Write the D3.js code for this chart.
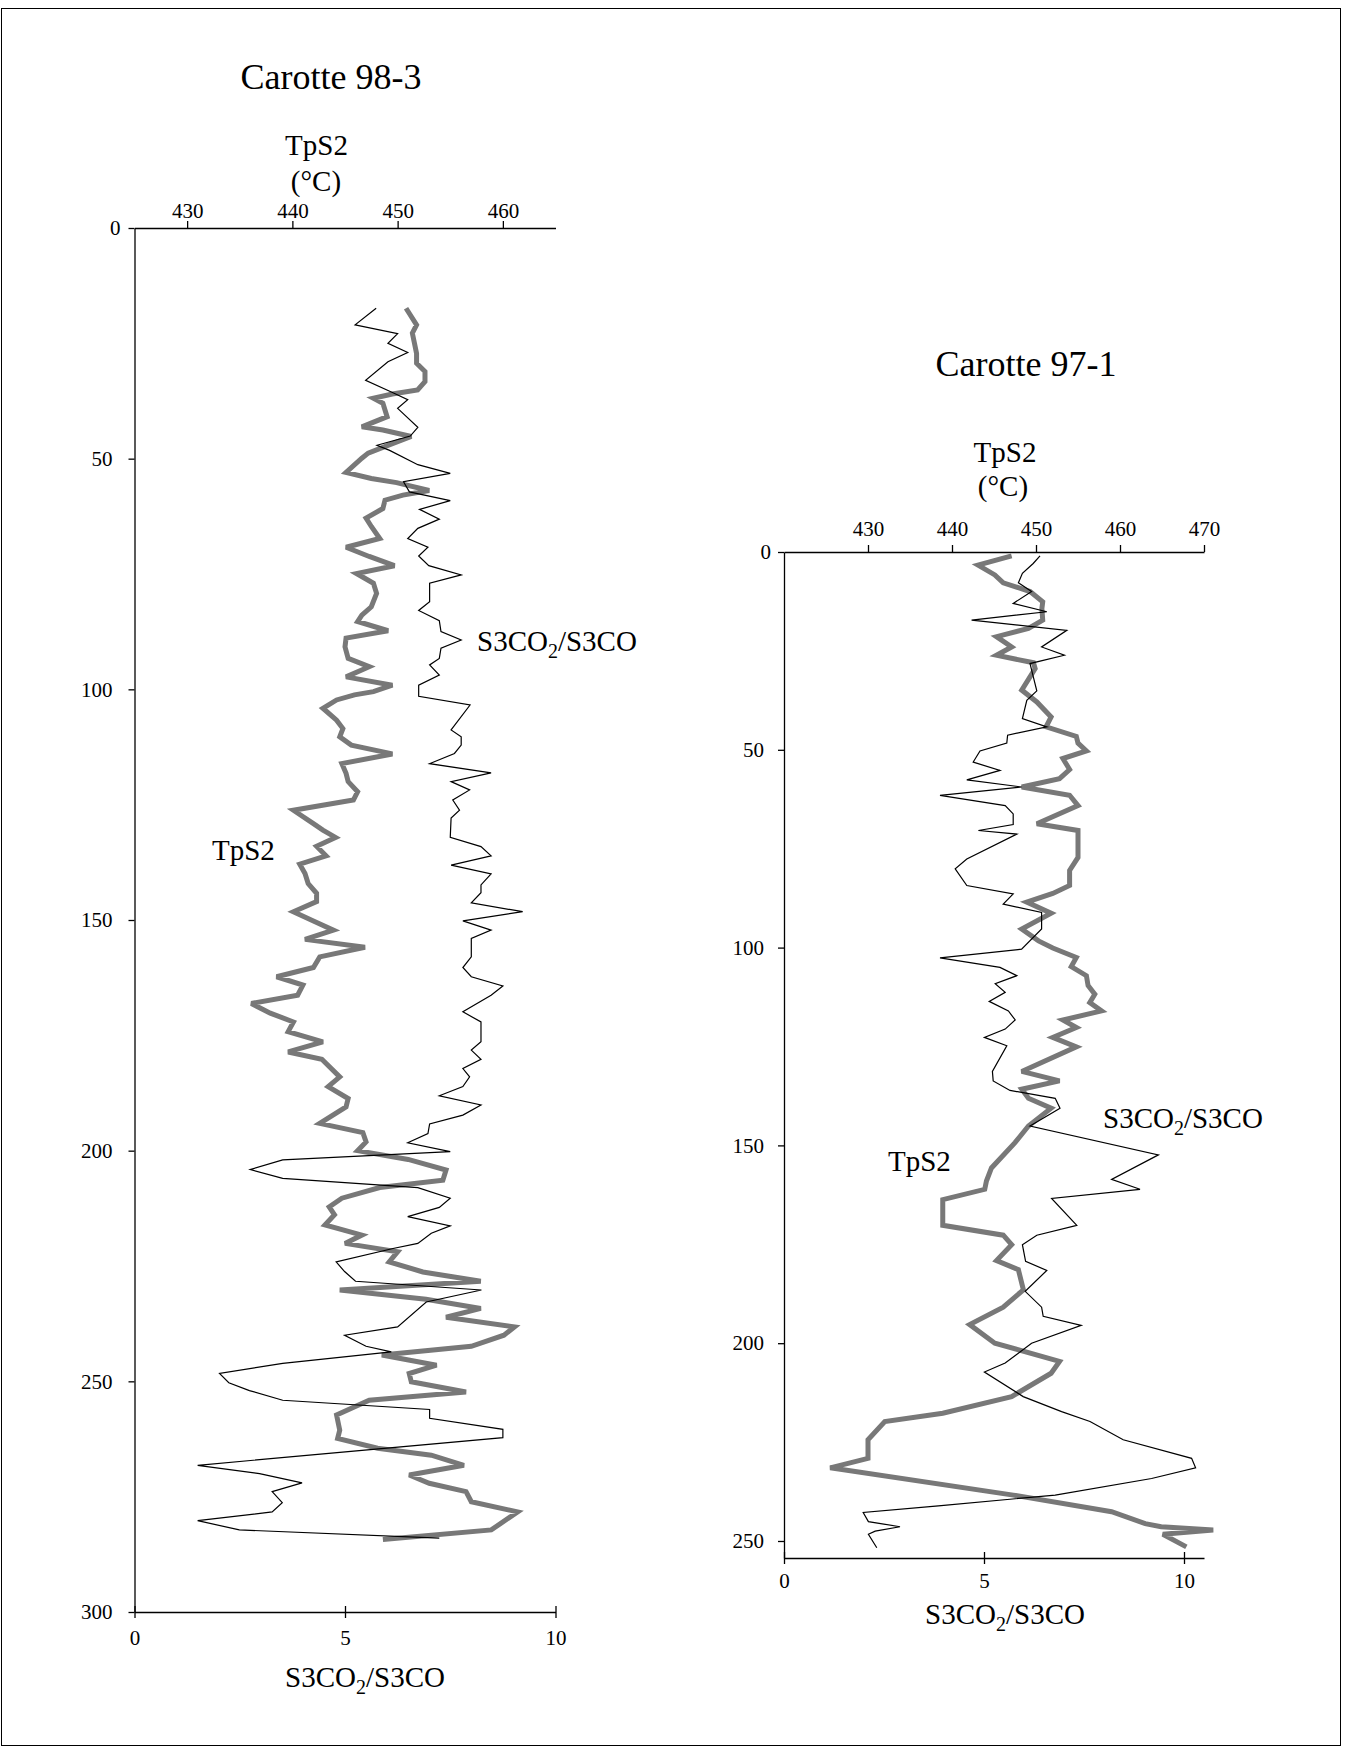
<!DOCTYPE html>
<html>
<head>
<meta charset="utf-8">
<script src="https://cdn.jsdelivr.net/npm/d3@7/dist/d3.min.js"></script>
<style>
  html, body { margin: 0; padding: 0; background: #fff; }
  svg { display: block; }
  text { font-family: "Liberation Serif", "DejaVu Serif", serif; fill: #000; }
</style>
</head>
<body>
<svg id="chart" width="1348" height="1753"></svg>
<script>
// ---------------- DATA ----------------
// Core 98-3 : TpS2 (°C) versus depth
const core983_tps2 = [
  [17.4,450.8],[21.0,451.8],[22.8,451.4],[25.0,451.6],[27.2,451.8],[29.3,451.8],[31.1,452.6],[33.3,452.6],
  [35.1,451.9],[36.0,449.5],[36.9,447.7],[38.0,448.6],[40.9,449.0],[43.1,446.6],[43.8,448.6],[45.2,451.3],
  [47.0,449.2],[48.8,447.2],[49.9,446.6],[53.0,445.1],[54.3,447.5],[55.2,449.9],[56.9,453.0],[57.9,450.5],
  [59.0,448.8],[60.8,448.6],[62.9,447.0],[64.7,447.5],[67.3,448.3],[69.2,445.1],[71.2,447.3],[73.2,449.7],
  [74.9,446.1],[77.0,447.7],[79.2,448.0],[82.1,447.5],[83.9,446.6],[85.3,446.2],[87.3,449.1],[88.9,445.1],
  [90.8,445.0],[93.3,445.3],[95.1,447.3],[97.3,445.1],[99.1,449.5],[100.5,447.7],[101.2,445.9],[102.3,444.2],
  [104.1,442.9],[106.7,444.2],[108.5,444.8],[110.3,444.5],[112.1,445.6],[114.0,449.5],[116.1,444.7],[118.2,445.1],
  [120.0,445.3],[122.2,446.2],[124.0,445.8],[126.2,440.1],[129.1,442.0],[130.5,442.9],[132.1,444.1],[134.0,442.3],
  [136.1,443.2],[137.9,440.7],[139.9,441.2],[142.1,441.5],[144.2,442.3],[146.0,442.3],[148.2,440.1],[150.2,442.0],
  [152.2,443.9],[154.2,441.2],[155.9,446.9],[158.0,442.6],[160.3,442.0],[162.3,438.5],[164.1,441.0],[166.3,440.5],
  [168.1,436.1],[170.2,437.9],[172.1,440.1],[174.2,439.6],[176.4,442.9],[178.6,439.6],[180.2,442.8],[184.0,444.5],
  [186.1,443.4],[188.7,445.3],[190.5,445.1],[194.1,442.6],[196.1,446.7],[198.1,447.0],[200.0,446.2],[201.9,451.0],
  [204.2,454.6],[206.4,454.3],[208.0,448.3],[210.3,444.7],[212.2,443.5],[213.9,444.0],[216.1,443.1],[218.3,446.6],
  [220.1,445.0],[221.9,450.0],[224.1,449.2],[226.3,452.4],[228.3,457.9],[230.2,444.5],[232.2,452.7],[234.2,457.9],
  [236.1,454.6],[238.2,461.1],[240.0,460.1],[242.4,457.0],[244.3,448.5],[246.5,453.7],[248.3,451.1],[250.1,451.3],
  [252.3,456.5],[254.1,447.3],[257.3,444.2],[260.6,444.5],[262.4,444.3],[264.5,448.1],[266.0,453.2],[268.2,456.3],
  [270.3,451.1],[272.1,453.0],[273.9,456.5],[276.1,457.0],[278.3,461.4],[282.2,458.9],[284.3,448.6]
];
// Core 98-3 : S3CO2/S3CO versus depth
const core983_ratio = [
  [17.4,5.74],[21.0,5.24],[22.9,6.25],[25.0,6.02],[27.0,6.49],[29.0,6.02],[33.0,5.49],[35.7,6.14],
  [37.2,6.49],[39.1,6.25],[43.2,6.73],[45.1,6.55],[47.1,5.76],[48.2,6.06],[51.3,6.73],[53.2,7.50],
  [55.0,6.39],[57.2,6.53],[59.1,7.50],[61.0,6.77],[63.1,7.24],[65.1,6.73],[67.3,6.49],[69.2,6.97],
  [71.1,6.75],[73.2,6.99],[75.2,7.76],[77.0,7.01],[81.0,7.01],[82.9,6.75],[85.1,7.24],[87.5,7.28],
  [89.3,7.76],[91.1,7.28],[93.3,7.24],[94.7,7.01],[96.9,7.24],[99.1,6.75],[101.5,6.75],[103.4,7.97],
  [108.8,7.52],[110.3,7.76],[112.1,7.76],[113.9,7.60],[116.1,7.01],[118.1,8.47],[120.0,7.52],[121.8,7.96],
  [124.0,7.56],[126.2,7.72],[127.9,7.52],[132.1,7.50],[134.1,8.23],[136.1,8.47],[138.1,7.52],[140.0,8.47],
  [142.4,8.23],[144.1,8.23],[146.3,8.00],[148.2,9.22],[150.2,7.80],[152.2,8.47],[154.0,8.00],[158.0,8.00],
  [160.3,7.80],[162.3,8.00],[164.3,8.75],[166.3,8.47],[169.9,7.80],[172.1,8.23],[176.4,8.23],[178.2,8.00],
  [180.2,8.23],[182.2,7.80],[184.0,7.96],[186.1,7.80],[188.1,7.24],[190.1,8.23],[192.3,7.80],[194.2,7.01],
  [196.3,6.97],[198.3,6.49],[200.2,7.50],[202.0,3.52],[204.1,2.75],[206.0,3.52],[208.0,6.73],[210.3,7.50],
  [212.3,7.24],[214.3,6.49],[216.3,7.50],[217.9,7.05],[220.1,6.73],[221.2,6.14],[224.1,4.79],[226.2,4.99],
  [228.3,5.25],[230.2,8.24],[232.8,6.93],[238.2,6.25],[240.0,4.99],[242.4,5.50],[243.6,6.10],[246.1,3.52],
  [248.3,2.02],[250.3,2.24],[252.0,2.73],[254.1,3.52],[256.1,7.01],[258.0,7.01],[260.4,8.75],[262.2,8.75],
  [268.2,1.50],[270.0,2.97],[272.0,3.98],[273.9,3.27],[276.3,3.51],[278.3,3.27],[280.2,1.50],[282.2,2.49],
  [284.0,7.24]
];
// Core 97-1 : TpS2 (°C) versus depth
const core971_tps2 = [
  [1.0,447.1],[3.3,443.1],[5.8,445.1],[7.8,446.1],[10.0,449.3],[12.6,450.8],[14.3,450.7],[17.2,450.8],
  [19.3,449.1],[21.4,445.3],[24.0,447.1],[26.1,445.3],[28.0,449.7],[29.5,449.9],[34.9,448.3],[37.9,450.1],
  [41.7,451.8],[44.2,451.2],[46.6,454.8],[48.3,455.0],[50.3,456.0],[52.2,453.2],[55.0,454.0],[57.3,452.8],
  [59.4,448.3],[61.5,454.0],[64.1,455.0],[68.7,450.1],[70.4,455.0],[77.2,455.0],[80.5,454.0],[84.3,454.0],
  [86.3,452.0],[88.5,448.9],[91.3,451.8],[95.3,448.3],[98.3,450.3],[100.1,452.0],[102.5,454.8],[104.8,454.2],
  [107.1,456.0],[109.6,456.2],[111.8,457.0],[113.9,456.4],[116.0,457.8],[118.3,453.2],[120.2,454.8],[122.7,452.0],
  [125.1,454.8],[131.3,448.3],[133.7,452.8],[135.8,448.3],[138.1,449.1],[140.6,451.8],[145.1,449.1],[149.3,447.5],
  [155.7,444.7],[159.0,444.1],[161.1,443.9],[163.7,438.9],[170.2,438.9],[172.7,446.1],[175.1,447.1],[179.1,445.3],
  [181.4,447.9],[186.5,448.5],[190.9,446.1],[195.3,442.1],[200.0,445.1],[204.6,452.8],[207.6,451.8],[213.5,447.1],
  [217.7,438.9],[219.8,432.0],[224.4,430.0],[229.1,430.0],[231.5,425.5],[238.4,447.3],[242.6,459.0],[245.6,463.0],
  [246.4,464.9],[247.2,471.1],[248.3,465.1],[251.5,467.9]
];
// Core 97-1 : S3CO2/S3CO versus depth
const core971_ratio = [
  [1.0,6.40],[2.9,6.23],[5.4,5.96],[7.8,5.86],[10.0,6.19],[13.0,5.73],[15.1,6.57],[17.2,4.69],
  [19.8,7.07],[24.0,6.44],[26.1,7.01],[28.2,6.15],[35.1,6.32],[37.5,6.07],[42.1,5.96],[44.2,6.57],
  [46.3,5.59],[48.3,5.57],[50.3,4.90],[53.1,4.73],[55.2,5.40],[57.6,4.57],[59.4,5.94],[61.5,3.90],
  [64.1,5.53],[66.2,5.73],[68.9,5.73],[70.4,4.86],[71.3,5.82],[77.6,4.57],[80.1,4.28],[84.3,4.57],
  [86.4,5.73],[89.0,5.48],[91.1,6.44],[95.3,6.44],[100.4,5.94],[102.6,3.90],[105.0,5.40],[107.1,5.82],
  [109.1,5.28],[111.3,5.53],[113.6,5.13],[116.0,5.61],[118.3,5.78],[120.6,5.53],[122.7,5.01],[124.8,5.57],
  [131.3,5.21],[133.7,5.23],[136.1,5.65],[138.1,6.78],[140.6,6.90],[145.1,6.15],[152.4,9.36],[158.6,8.19],
  [161.1,8.90],[163.4,6.69],[170.2,7.32],[172.7,6.32],[175.1,5.96],[179.3,6.04],[181.6,6.57],[186.9,6.03],
  [190.9,6.44],[193.2,6.48],[195.5,7.43],[200.0,6.19],[205.0,5.53],[207.3,5.01],[213.5,5.98],[217.3,6.94],
  [219.8,7.65],[224.4,8.48],[229.1,10.19],[231.5,10.29],[234.2,9.19],[238.4,6.78],[241.1,3.86],[242.8,1.98],
  [245.1,2.11],[246.4,2.90],[247.5,2.28],[248.3,2.11],[251.7,2.32]
];

// Tick values
const core983_depthTicks = [0, 50, 100, 150, 200, 250, 300];
const core983_tempTicks = [430, 440, 450, 460];
const core983_ratioTicks = [0, 5, 10];
const core971_depthTicks = [0, 50, 100, 150, 200, 250];
const core971_tempTicks = [430, 440, 450, 460, 470];
const core971_ratioTicks = [0, 5, 10];

// Text
const titles = ["Carotte 98-3", "Carotte 97-1"];

// ---------------- DRAWING ----------------
const svg = d3.select("#chart");
const GREY = "#787878";

// outer frame
svg.append("rect").attr("x", 1.5).attr("y", 8.5).attr("width", 1339).attr("height", 1737)
  .attr("fill", "none").attr("stroke", "#000").attr("stroke-width", 1);

function drawPanel(cfg) {
  const g = svg.append("g");
  const xT = d3.scaleLinear().domain(cfg.tDomain).range(cfg.xRange);
  const xR = d3.scaleLinear().domain(cfg.rDomain).range(cfg.xRange);
  const y = d3.scaleLinear().domain(cfg.dDomain).range(cfg.yRange);

  const styleAxis = sel => {
    sel.select(".domain").attr("stroke", "#000").attr("stroke-width", 1.3);
    sel.selectAll(".tick line").attr("stroke", "#000").attr("stroke-width", 1.3);
    sel.selectAll("text").attr("font-family", "Liberation Serif, serif").attr("font-size", 21).attr("fill", "#000");
  };

  // top axis (TpS2)
  const top = g.append("g").attr("transform", `translate(0,${cfg.yRange[0]})`)
    .call(d3.axisTop(xT).tickValues(cfg.tTicks).tickSizeInner(7).tickSizeOuter(0).tickPadding(cfg.topPad).tickFormat(d3.format("d")));
  styleAxis(top);

  // left axis (depth)
  const left = g.append("g").attr("transform", `translate(${cfg.xRange[0]},0)`)
    .call(d3.axisLeft(y).tickValues(cfg.dTicks).tickSizeInner(6).tickSizeOuter(0).tickPadding(cfg.leftPad).tickFormat(d3.format("d")));
  styleAxis(left);
  left.selectAll(".tick").filter(d => d === 0).select("text").attr("dx", cfg.zeroDx);

  // bottom axis (ratio)
  const yB = y(cfg.dDomain[1]);
  const bottom = g.append("g").attr("transform", `translate(0,${yB})`)
    .call(d3.axisBottom(xR).tickValues(cfg.rTicks).tickSizeInner(6).tickSizeOuter(0).tickPadding(cfg.bottomPad).tickFormat(d3.format("d")));
  styleAxis(bottom);
  bottom.selectAll(".tick line").attr("y1", -6).attr("y2", 6);

  // series
  const lineT = d3.line().x(d => xT(d[1])).y(d => y(d[0]));
  const lineR = d3.line().x(d => xR(d[1])).y(d => y(d[0]));
  g.append("path").datum(cfg.tData).attr("d", lineT)
    .attr("fill", "none").attr("stroke", GREY).attr("stroke-width", 5)
    .attr("stroke-linejoin", "miter").attr("stroke-miterlimit", 3);
  g.append("path").datum(cfg.rData).attr("d", lineR)
    .attr("fill", "none").attr("stroke", "#000").attr("stroke-width", 1.2)
    .attr("stroke-linejoin", "miter").attr("stroke-miterlimit", 4);

  // texts
  g.append("text").attr("x", cfg.titlePos[0]).attr("y", cfg.titlePos[1])
    .attr("text-anchor", "middle").attr("font-size", 36).text(cfg.title);
  g.append("text").attr("x", cfg.tTitle[0]).attr("y", cfg.tTitle[1])
    .attr("text-anchor", "middle").attr("font-size", 29).text("TpS2");
  g.append("text").attr("x", cfg.tUnit[0]).attr("y", cfg.tUnit[1])
    .attr("text-anchor", "middle").attr("font-size", 29).text("(°C)");

  const ratioText = (sel) => {
    sel.append("tspan").text("S3CO");
    sel.append("tspan").attr("font-size", 20).attr("dy", 7).text("2");
    sel.append("tspan").attr("dy", -7).text("/S3CO");
  };
  g.append("text").attr("x", cfg.rTitle[0]).attr("y", cfg.rTitle[1])
    .attr("text-anchor", "middle").attr("font-size", 29).call(ratioText);

  g.append("text").attr("x", cfg.rLabel[0]).attr("y", cfg.rLabel[1])
    .attr("font-size", 29).call(ratioText);
  g.append("text").attr("x", cfg.tLabel[0]).attr("y", cfg.tLabel[1])
    .attr("font-size", 29).text("TpS2");
}

drawPanel({
  title: titles[0], titlePos: [331, 89],
  tDomain: [425, 465], rDomain: [0, 10], dDomain: [0, 300],
  xRange: [134.5, 555.5], yRange: [228, 1612],
  tTicks: core983_tempTicks, dTicks: core983_depthTicks, rTicks: core983_ratioTicks,
  topPad: 3, leftPad: 16, bottomPad: 12, zeroDx: 8,
  tData: core983_tps2, rData: core983_ratio,
  tTitle: [316.5, 155], tUnit: [316, 191],
  rTitle: [365, 1687], rLabel: [477, 651], tLabel: [212, 860]
});

drawPanel({
  title: titles[1], titlePos: [1026, 376],
  tDomain: [420, 470], rDomain: [0, 10.5], dDomain: [0, 254.3],
  xRange: [784, 1204], yRange: [552, 1558],
  tTicks: core971_tempTicks, dTicks: core971_depthTicks, rTicks: core971_ratioTicks,
  topPad: 9, leftPad: 14, bottomPad: 9, zeroDx: 7,
  tData: core971_tps2, rData: core971_ratio,
  tTitle: [1005, 462], tUnit: [1003, 496],
  rTitle: [1005, 1624], rLabel: [1103, 1128], tLabel: [888, 1171]
});
</script>
</body>
</html>
